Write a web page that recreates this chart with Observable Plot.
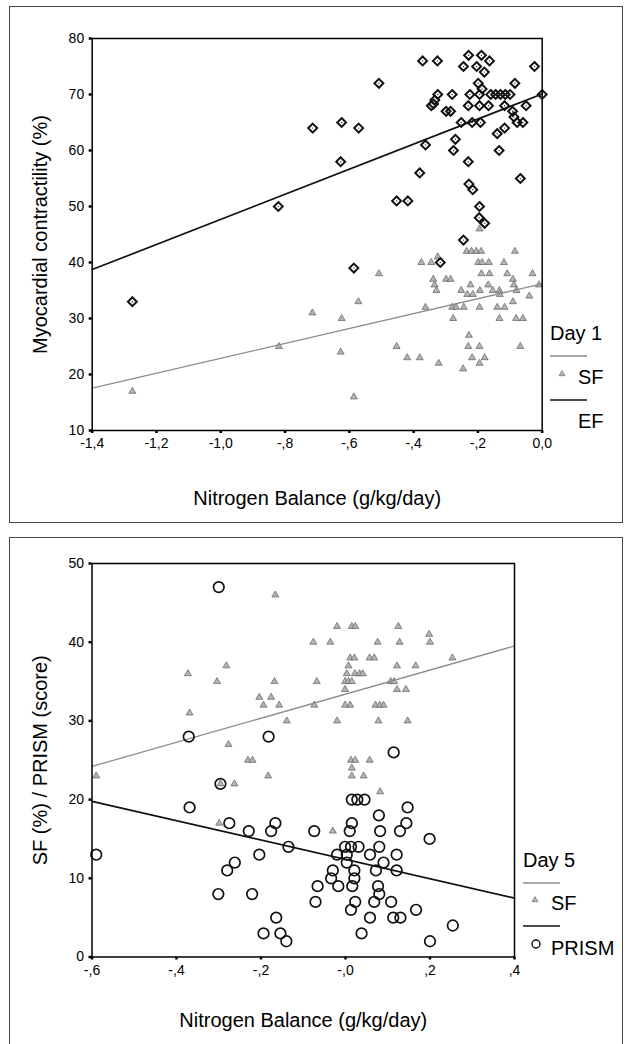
<!DOCTYPE html>
<html>
<head>
<meta charset="utf-8">
<script src="https://cdn.jsdelivr.net/npm/d3@7"></script>
<script src="https://cdn.jsdelivr.net/npm/@observablehq/plot@0.6"></script>
<style>
  body { margin: 0; background: #fff; font-family: "Liberation Sans", Arial, sans-serif; }
  .panel { position: absolute; left: 9px; width: 612px; border: 1px solid #444; background: #fff; overflow: hidden; }
  #day1 { top: 6px; height: 515px; }
  #day5 { top: 537px; height: 510px; }
  .panel svg.legend { position: absolute; left: 0; top: 0; pointer-events: none; }
</style>
</head>
<body>
<div id="day1" class="panel"></div>
<div id="day5" class="panel"></div>
<script>
// ---- Day 1: nitrogen balance vs shortening (SF) and ejection fraction (EF) ----
const day1XTicks = [-1.4, -1.2, -1.0, -0.8, -0.6, -0.4, -0.2, 0.0];
const day1XLabels = ["-1,4", "-1,2", "-1,0", "-,8", "-,6", "-,4", "-,2", "0,0"];
const day1YTicks = [10, 20, 30, 40, 50, 60, 70, 80];

const day1EF = [
  [-0.508, 72], [-0.199, 72], [-0.085, 72], [-0.187, 71],
  [-0.325, 70], [-0.280, 70], [-0.225, 70], [-0.195, 70], [-0.160, 70], [-0.145, 70], [-0.130, 70], [-0.115, 70], [-0.100, 70],
  [-0.334, 69], [-0.345, 68], [-0.338, 68.3], [-0.299, 67], [-0.285, 67], [-0.230, 68], [-0.195, 68], [-0.167, 68],
  [-0.117, 68], [-0.092, 67], [-0.088, 66], [-0.078, 65], [-0.252, 65], [-0.218, 65], [-0.192, 65],
  [-0.714, 64], [-0.624, 65], [-0.571, 64], [-0.117, 64], [-0.140, 63], [-0.270, 62], [-0.363, 61],
  [-0.276, 60], [-0.134, 60], [-0.627, 58], [-0.230, 58], [-0.381, 56], [-0.228, 54], [-0.216, 53],
  [-0.453, 51], [-0.418, 51], [-0.195, 50], [-0.196, 48], [-0.179, 47], [-0.245, 44], [-0.068, 55],
  [-0.586, 39], [-0.317, 40], [-1.275, 33], [-0.821, 50],
  [-0.372, 76], [-0.326, 76], [-0.229, 77], [-0.189, 77], [-0.245, 75], [-0.204, 75], [-0.164, 76],
  [-0.180, 74], [-0.024, 75], [0.0, 70], [-0.050, 68], [-0.060, 65]
];

const day1SF = [
  [-0.325, 41], [-0.376, 40], [-0.345, 40], [-0.199, 40], [-0.187, 40], [-0.166, 40], [-0.119, 40],
  [-0.235, 42], [-0.220, 42], [-0.205, 42], [-0.190, 42], [-0.085, 42], [-0.508, 38], [-0.189, 38],
  [-0.164, 38], [-0.109, 38], [-0.339, 37], [-0.299, 37], [-0.285, 37], [-0.091, 37], [-0.335, 36],
  [-0.223, 36], [-0.168, 36], [-0.088, 36], [-0.329, 35], [-0.252, 35], [-0.194, 35], [-0.154, 35],
  [-0.133, 35], [-0.080, 35], [-0.233, 34.3], [-0.216, 34.3], [-0.132, 34.3], [-0.572, 33], [-0.091, 33],
  [-0.363, 32], [-0.280, 32], [-0.268, 32], [-0.244, 32], [-0.195, 32], [-0.140, 32], [-0.117, 32],
  [-0.715, 31], [-0.624, 30], [-0.277, 30], [-0.133, 30], [-0.081, 30], [-0.228, 27], [-0.453, 25],
  [-0.230, 25], [-0.195, 25], [-0.068, 25], [-0.627, 24], [-0.420, 23], [-0.381, 23], [-0.218, 23],
  [-0.179, 23], [-0.322, 22], [-0.195, 22], [-0.246, 21], [-0.586, 16], [-1.275, 17], [-0.819, 25],
  [-0.195, 46], [-0.030, 38], [-0.010, 36], [-0.060, 30], [-0.040, 34]
];

// fitted regression lines: y = intercept + slope * x
const day1FitSeries = ["SF", "EF"];
const day1FitIntercept = [36.2, 70.1];
const day1FitSlope = [13.3, 22.4];

// ---- Day 5: nitrogen balance vs SF and PRISM score ----
const day5XTicks = [-0.6, -0.4, -0.2, 0.0, 0.2, 0.4];
const day5XLabels = ["-,6", "-,4", "-,2", "-,0", ",2", ",4"];
const day5YTicks = [0, 10, 20, 30, 40, 50];

const day5SF = [
  [-0.166, 46], [-0.282, 37], [-0.373, 36], [-0.304, 35], [-0.168, 35], [-0.204, 33], [-0.176, 33],
  [-0.020, 42], [0.015, 42], [0.023, 42], [0.125, 42], [0.198, 41], [-0.076, 40], [-0.036, 40],
  [0.076, 40], [0.128, 40], [0.200, 40], [0.011, 38], [0.021, 38], [0.057, 38], [0.068, 38], [0.253, 38],
  [0.007, 37], [0.122, 37], [0.166, 37], [0.003, 36], [0.022, 36], [0.033, 36], [0.041, 36],
  [-0.068, 35], [-0.001, 35], [0.007, 35], [0.015, 35], [0.107, 35], [0.115, 35], [-0.001, 34],
  [0.122, 34], [0.143, 34], [-0.194, 32], [-0.157, 32], [-0.369, 31], [-0.139, 30], [-0.277, 27],
  [-0.231, 25], [-0.220, 25], [-0.590, 23], [-0.183, 23], [-0.296, 22], [-0.263, 22], [-0.299, 17],
  [-0.074, 32], [-0.001, 32], [0.011, 32], [0.071, 32], [0.081, 32], [0.090, 32], [-0.020, 30],
  [0.078, 30], [0.147, 30], [0.013, 25], [0.023, 25], [0.057, 25], [0.015, 24], [0.015, 23],
  [0.043, 23], [0.082, 21], [-0.030, 16]
];

const day5PRISM = [
  [-0.300, 47], [-0.371, 28], [-0.182, 28], [-0.296, 22], [-0.369, 19], [-0.275, 17], [-0.229, 16],
  [-0.166, 17], [-0.176, 16], [-0.135, 14], [-0.590, 13], [-0.204, 13], [-0.262, 12], [-0.280, 11],
  [-0.301, 8], [-0.221, 8], [0.114, 26], [0.015, 20], [0.028, 20], [0.045, 20], [0.147, 19], [0.079, 18],
  [0.144, 17], [0.015, 17], [-0.074, 16], [0.010, 16], [0.082, 16], [0.129, 16], [0.199, 15],
  [-0.001, 14], [0.013, 14], [0.031, 14], [0.080, 14], [-0.020, 13], [0.003, 13], [0.058, 13],
  [0.121, 13], [0.003, 12], [0.090, 12], [-0.030, 11], [0.021, 11], [0.072, 11], [0.121, 11],
  [-0.034, 10], [0.021, 10], [-0.066, 9], [-0.017, 9], [0.016, 9], [0.077, 9], [0.080, 8],
  [-0.071, 7], [0.023, 7], [0.068, 7], [0.108, 7], [0.013, 6], [0.167, 6], [-0.164, 5], [0.058, 5],
  [0.113, 5], [0.130, 5], [0.254, 4], [-0.194, 3], [-0.154, 3], [0.038, 3], [-0.140, 2], [0.200, 2]
];

const day5FitSeries = ["SF", "PRISM"];
const day5FitIntercept = [33.4, 12.4];
const day5FitSlope = [15.3, -12.3];

const FONT = "'Liberation Sans', Arial, sans-serif";
const SF_GRAY = "#8c8c8c";

function fitLine(domain, intercept, slope) {
  return domain.map(x => ({x, y: intercept + slope * x}));
}

function axes(xTicks, xLabels, yTicks) {
  return [
    Plot.axisX({ticks: xTicks, tickFormat: d => xLabels[xTicks.indexOf(d)], tickSize: 3, tickPadding: 5,
                strokeWidth: 2.5, fontSize: 14, label: null}),
    Plot.axisY({ticks: yTicks, tickSize: 3, tickPadding: 5, strokeWidth: 2.5, fontSize: 14, label: null})
  ];
}

function titles(xTitle, xOffset, yTitle, yOffset) {
  return [
    Plot.text([xTitle], {text: d => d, frameAnchor: "bottom", dy: xOffset, fontSize: 20,
                         textAnchor: "middle", lineAnchor: "middle"}),
    Plot.text([yTitle], {text: d => d, frameAnchor: "left", dx: yOffset, rotate: -90, fontSize: 20,
                         textAnchor: "middle", lineAnchor: "middle"})
  ];
}

const triangleDot = data => Plot.dot(data, {x: d => d[0], y: d => d[1], symbol: "triangle", r: 2.6,
  fill: "#b4b4b4", stroke: "#5e5e5e", strokeWidth: 0.7});

// Day 1 panel
const xDom1 = [-1.4, 0];
const plot1 = Plot.plot({
  width: 612, height: 515,
  marginLeft: 81.7, marginRight: 80.3, marginTop: 31, marginBottom: 92,
  style: {fontFamily: FONT, fontSize: "14px", color: "#000", background: "transparent"},
  x: {domain: xDom1},
  y: {domain: [10, 80]},
  marks: [
    ...axes(day1XTicks, day1XLabels, day1YTicks),
    triangleDot(day1SF),
    Plot.line(fitLine(xDom1, day1FitIntercept[0], day1FitSlope[0]), {x: "x", y: "y", stroke: SF_GRAY, strokeWidth: 1.3}),
    Plot.line(fitLine(xDom1, day1FitIntercept[1], day1FitSlope[1]), {x: "x", y: "y", stroke: "#111", strokeWidth: 1.7}),
    Plot.dot(day1EF, {x: d => d[0], y: d => d[1], symbol: "diamond2", r: 4, fill: "none", stroke: "#111", strokeWidth: 2}),
    Plot.dot(day1EF, {x: d => d[0], y: d => d[1], r: 0.7, fill: "#333"}),
    Plot.frame({stroke: "#000", strokeWidth: 1.5}),
    ...titles("Nitrogen Balance (g/kg/day)", 68, "Myocardial contractility (%)", -52)
  ]
});
document.getElementById("day1").appendChild(plot1);

// Day 5 panel
const xDom5 = [-0.6, 0.4];
const plot5 = Plot.plot({
  width: 612, height: 510,
  marginLeft: 81.5, marginRight: 108, marginTop: 25, marginBottom: 91.5,
  style: {fontFamily: FONT, fontSize: "14px", color: "#000", background: "transparent"},
  x: {domain: xDom5},
  y: {domain: [0, 50]},
  marks: [
    ...axes(day5XTicks, day5XLabels, day5YTicks),
    triangleDot(day5SF),
    Plot.line(fitLine(xDom5, day5FitIntercept[0], day5FitSlope[0]), {x: "x", y: "y", stroke: SF_GRAY, strokeWidth: 1.3}),
    Plot.line(fitLine(xDom5, day5FitIntercept[1], day5FitSlope[1]), {x: "x", y: "y", stroke: "#111", strokeWidth: 1.7}),
    Plot.dot(day5PRISM, {x: d => d[0], y: d => d[1], r: 5.3, fill: "none", stroke: "#111", strokeWidth: 1.7}),
    Plot.frame({stroke: "#000", strokeWidth: 1.5}),
    ...titles("Nitrogen Balance (g/kg/day)", 63.5, "SF (%) / PRISM (score)", -51.5)
  ]
});
document.getElementById("day5").appendChild(plot5);

// Legends: day label, SF line + triangle, second series line + symbol
function addLegend(panelId, w, h, o) {
  const svg = d3.select("#" + panelId).append("svg").attr("class", "legend")
    .attr("width", w).attr("height", h).style("font-family", FONT);
  svg.append("text").attr("x", o.x).attr("y", o.dayY).attr("dy", "0.35em")
    .attr("font-size", 20).text(o.day);
  svg.append("line").attr("x1", o.x).attr("x2", o.x + 37).attr("y1", o.line1Y).attr("y2", o.line1Y)
    .attr("stroke", SF_GRAY).attr("stroke-width", 1.3);
  svg.append("path").attr("transform", `translate(${o.x + 12},${o.sfY - 3})`)
    .attr("d", d3.symbol(d3.symbolTriangle, Math.PI * 2.2 * 2.2)())
    .attr("fill", "#b4b4b4").attr("stroke", "#5e5e5e").attr("stroke-width", 0.6);
  svg.append("text").attr("x", o.x + 28).attr("y", o.sfY).attr("dy", "0.35em")
    .attr("font-size", 20).text(o.sfLabel);
  svg.append("line").attr("x1", o.x).attr("x2", o.x + 37).attr("y1", o.line2Y).attr("y2", o.line2Y)
    .attr("stroke", "#111").attr("stroke-width", 1.6);
  if (o.circle) {
    svg.append("circle").attr("cx", o.x + 13).attr("cy", o.seriesY - 4).attr("r", 4)
      .attr("fill", "none").attr("stroke", "#111").attr("stroke-width", 1.4);
  }
  svg.append("text").attr("x", o.x + 28).attr("y", o.seriesY).attr("dy", "0.35em")
    .attr("font-size", 20).text(o.series);
}

addLegend("day1", 612, 515, {x: 540, day: "Day 1", dayY: 326, line1Y: 349, sfY: 370, sfLabel: day1FitSeries[0],
  line2Y: 393, series: day1FitSeries[1], seriesY: 414, circle: false});
addLegend("day5", 612, 510, {x: 513, day: "Day 5", dayY: 322, line1Y: 345, sfY: 365, sfLabel: day5FitSeries[0],
  line2Y: 388, series: day5FitSeries[1], seriesY: 410, circle: true});
</script>
</body>
</html>
